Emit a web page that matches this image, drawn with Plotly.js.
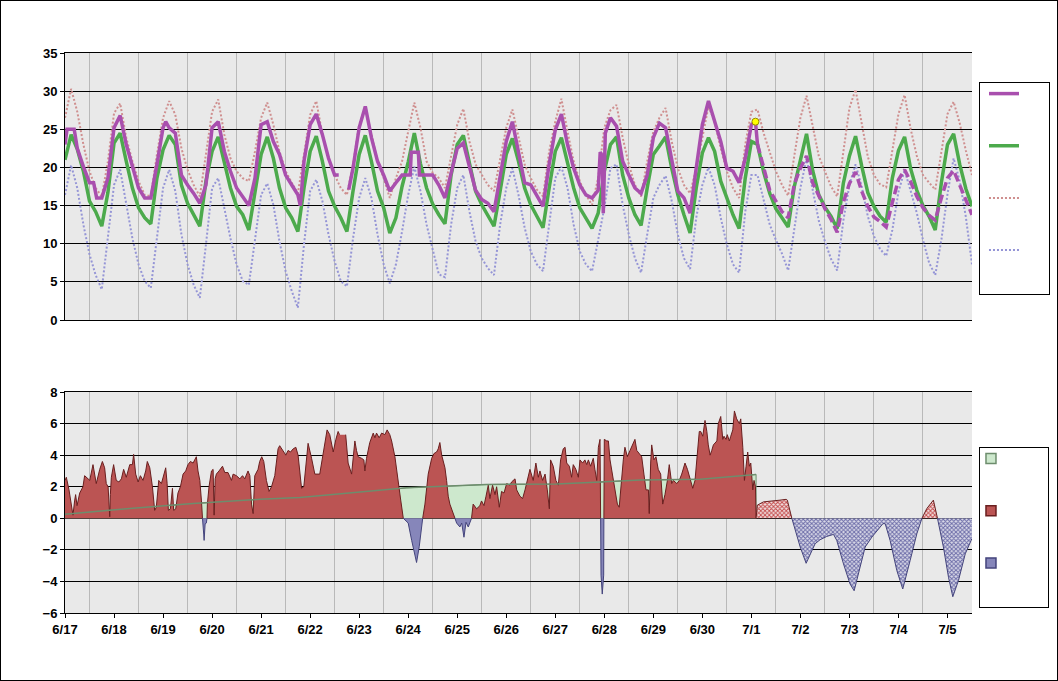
<!DOCTYPE html>
<html><head><meta charset="utf-8">
<script src="https://cdn.plot.ly/plotly-3.0.1.min.js"></script>
<style>
html,body{margin:0;padding:0;background:#fff;}
#chart{width:1056px;height:679px;border:1px solid #000;}
</style></head><body><div id="chart"></div>
<script>
// ---------- DATA (hours counted from 6/17 00:00) ----------
const gridStepHours = 3; // normal / record series: one value every 3 hours, 6/17 00h .. 7/5 12h
const normalTemp = [21.0,24.3,22.4,19.5,15.6,14.2,12.3,16.7, 23.2,24.5,20.8,17.3,14.7,13.4,12.6,18.6,
 22.3,24.2,23.0,17.7,15.3,13.8,12.3,18.2, 22.1,24.0,20.8,17.3,14.9,13.8,11.8,16.9,
 21.7,24.0,21.2,17.3,14.7,13.4,11.6,17.3, 22.1,24.1,20.8,16.9,14.9,13.4,11.6,16.9,
 21.7,24.2,20.8,16.9,14.7,11.4,13.4,17.5, 20.7,24.5,20.5,17.3,15.2,13.8,12.6,19.0,
 23.0,24.2,20.4,16.9,15.1,13.6,12.3,16.9, 21.7,23.8,20.8,17.3,15.1,13.6,12.1,17.3,
 22.1,23.9,20.8,17.3,14.7,13.4,12.0,14.0, 19.5,23.0,24.0,19.0,16.0,13.8,12.4,17.3,
 21.7,22.8,24.0,19.9,16.4,13.8,11.4,17.3, 21.9,23.9,22.1,18.2,16.0,13.8,12.0,18.6,
 23.4,23.0,19.4,16.6,14.6,13.4,12.2,17.5, 21.2,24.4,19.6,16.4,14.8,13.6,12.0,17.9,
 21.5,24.1,20.2,16.7,14.9,13.6,12.8,18.6, 22.2,24.0,19.8,17.0,15.0,13.6,11.8,18.0,
 23.0,24.4,20.4,17.2,14.9];
const recordHigh = [26.5,30.3,27.3,23.0,19.5,17.3,16.2,20.8, 27.1,28.4,23.9,20.8,18.2,16.4,16.2,21.7,
 26.5,28.7,26.9,22.5,19.7,17.7,16.2,22.1, 27.3,28.9,24.3,21.2,19.5,18.6,18.2,22.1,
 26.5,28.5,25.6,22.1,19.5,18.0,16.6,21.7, 26.9,28.7,24.3,21.2,19.0,17.3,16.4,20.4,
 25.6,27.8,24.3,20.8,18.6,16.0,18.6,20.8, 24.7,28.5,25.2,20.8,19.3,18.6,17.3,21.7,
 25.6,27.7,23.4,20.4,19.0,17.7,16.9,21.2, 25.2,27.6,23.9,20.4,18.6,17.1,16.2,22.1,
 26.0,29.0,24.7,20.8,18.2,16.4,15.1,18.6, 25.2,27.5,28.2,23.9,20.4,17.7,16.2,20.8,
 24.7,26.5,27.8,23.4,19.9,17.7,16.6,19.9, 23.9,28.0,26.0,22.5,19.5,17.3,16.0,23.0,
 27.3,27.6,24.5,22.0,19.5,17.7,16.3,21.5, 26.5,29.4,25.5,21.5,19.5,17.5,16.2,21.8,
 27.8,30.2,25.6,21.4,19.0,17.8,17.4,22.4, 27.0,29.5,25.0,21.5,19.0,18.0,17.1,22.0,
 27.0,28.6,25.8,22.2,19.0];
const recordLow = [16.4,20.3,17.3,12.5,8.6,5.9,4.0,10.7, 17.7,19.7,15.1,10.7,7.3,5.1,4.2,10.7,
 17.3,19.7,16.9,11.2,7.3,4.6,2.9,9.9, 17.3,18.6,14.7,10.7,7.3,5.1,4.6,10.7,
 16.4,17.9,15.1,10.3,6.4,3.8,1.6,9.9, 16.9,18.4,15.6,11.2,7.7,5.1,4.4,10.7,
 16.0,18.6,16.0,11.2,7.3,4.8,7.3,11.6, 16.4,20.1,16.9,12.5,9.2,6.0,5.6,12.5,
 17.3,19.0,14.2,10.3,8.1,6.8,5.9,12.5, 17.3,19.9,16.4,12.1,9.0,7.3,6.4,12.5,
 18.6,20.1,17.3,12.5,9.0,7.3,6.4,10.5, 14.7,19.9,20.4,15.1,11.2,8.1,6.2,11.2,
 16.0,17.7,18.9,15.6,11.2,8.1,6.7,13.4, 17.7,20.0,17.7,13.4,9.9,7.3,6.2,14.2,
 19.0,19.0,15.8,12.5,10.5,8.7,6.5,12.0, 17.3,21.2,17.0,13.0,10.3,8.0,6.5,13.0,
 17.7,20.4,17.5,13.6,11.0,9.3,8.4,11.8, 16.8,19.6,16.9,14.0,10.5,7.5,5.9,10.5,
 16.5,21.2,18.2,13.5,7.3];

const obsHours = [0,1,4.5,6,9,12,14,15.5,18,21,24,27,30,33,36,39,42,45,48,49.3,51,54,57,60,63,66,69,
 72,75,78,81,84,87,90,93,96,99,102,105,108,111,114,115.2,117,120,123,126,129,132,134,135.5,138.9,141,
 144,147,150,153,156,159,162,165,169,169.5,173,173.5,180,183,186,189,192,195,198,201,204,207,210,213,
 216,219,222,225,228,231,234,237,240,243,246,249,252,255,258,261,262,263,263.5,264.5,267,270,273,276,
 279,282,285,288,291,294,297,300,303,306,309,312,315,318,321,324,327,330,333,336,338,339];
const obsTemp = [23.0,25.0,25.0,22.5,20.1,18.0,18.0,16.0,16.0,18.6,25.2,26.8,23.0,20.1,17.3,16.0,16.0,20.4,25.2,26.0,25.2,24.5,19.0,17.7,16.6,15.3,17.7,
 25.2,26.0,22.1,19.5,17.3,16.2,15.0,18.6,25.6,26.0,23.4,21.7,19.0,17.7,16.4,15.0,20.8,25.6,27.0,24.3,21.2,19.0,19.0,null,17.1,19.9,
 25.2,28.0,23.9,20.8,19.0,16.9,18.0,19.0,19.0,22.0,22.0,19.0,19.0,17.7,16.0,19.5,22.5,23.2,19.9,17.0,15.8,15.3,14.2,18.6,
 23.4,26.0,22.1,18.0,17.7,16.4,14.9,20.4,24.9,27.0,23.0,19.9,17.7,16.4,16.0,17.0,22.0,21.5,14.0,24.5,26.5,25.4,20.8,19.0,
 17.3,16.6,19.0,23.9,25.8,25.2,21.2,16.9,16.0,14.0,19.9,25.6,28.7,26.0,23.4,19.9,19.5,18.0,21.2,25.6,26.0,23.0];
const latestHour = [338];
const latestTemp = [26.0];

const forecastHours = [339,342,345,348,351,354,357,360,363,366,369,372,375,378,381,384,387,390,393,396,399,402,
 405,408,411,414,417,420,423,426,429,432,435,438,441,444];
const forecastTemp = [23.0,19.8,17.0,15.6,14.2,13.4,17.8,19.9,21.5,18.0,16.2,14.6,13.2,11.5,15.4,17.9,19.4,16.9,14.9,13.5,12.9,12.2,
 15.4,18.4,19.7,18.1,16.2,14.7,13.7,13.1,16.0,18.6,19.6,17.6,15.5,13.8];

// departure from normal (bottom panel)
const anomHours = [0,0.65,1.96,3.1,3.9,4.7,5.2,5.9,7.2,8.8,9.6,11.3,12.1,13.7,14.5,15.3,17.0,18.3,19.4,20.2,21.1,21.6,21.9,22.2,22.7,23.8,
 25.1,26.4,27.6,28.7,30.0,31.7,33.0,33.6,34.6,35.8,36.9,38.2,39.5,40.3,41.5,42.8,43.9,44.7,45.9,47.2,48.5,49.3,50.0,50.6,51.6,52.6,53.2,54.2,
 55.3,56.5,57.8,59.1,60.2,61.4,62.7,63.5,64.3,65.1,66.0,66.8,67.3,67.6,67.9,68.1,68.3,68.6,69.2,69.5,69.7,70.5,71.7,72.5,73.0,73.5,74.1,
 75.4,77.1,78.2,79.8,81.5,82.3,83.9,85.6,86.9,88.0,89.6,90.5,91.3,92.1,92.9,94.5,95.3,96.3,97.3,98.6,99.9,101.1,102.7,104.3,105.1,106.8,
 108.1,109.2,110.4,111.7,113.0,114.1,115.8,116.9,118.2,119.0,120.7,122.3,124.7,126.4,128.3,129.6,131.3,132.6,133.7,134.4,135.8,137.4,
 138.6,140.3,141.9,142.7,143.5,145.2,146.3,146.8,147.6,149.2,150.9,151.7,152.5,153.8,155.0,156.6,157.7,159.0,159.9,161.5,163.1,164.4,
 165.6,168.0,169.7,170.8,172.1,173.4,174.6,175.1,176.2,177.8,179.5,180.6,181.9,182.7,183.5,184.4,186.0,186.8,187.6,188.4,190.0,190.9,
 191.7,193.3,194.2,195.3,196.3,197.4,198.2,199.0,199.8,201.5,203.1,203.9,205.1,206.1,207.2,208.0,209.3,210.5,211.3,212.6,213.7,214.9,
 216.2,217.8,218.6,220.3,221.1,222.7,224.0,225.2,226.8,227.6,229.2,230.5,231.7,232.5,233.8,235.0,236.1,237.1,237.7,239.0,240.3,241.5,
 242.6,243.9,244.8,245.6,246.9,248.0,248.8,250.1,251.3,252.1,253.4,254.5,255.4,256.2,257.3,258.6,259.4,260.3,261.1,261.9,262.2,262.4,
 263.0,263.7,263.8,264.0,265.2,266.0,266.8,268.1,269.2,270.4,271.3,272.5,273.3,274.1,275.3,276.6,277.9,279.0,279.9,281.1,282.3,283.4,
 284.4,285.6,286.0,286.7,287.2,288.3,289.3,290.4,291.6,292.6,293.7,294.9,295.8,297.0,297.8,299.5,300.7,301.9,303.5,304.7,306.0,307.3,
 308.4,309.6,310.5,311.2,312.2,313.3,314.2,314.9,315.8,316.6,317.4,319.1,319.8,321.0,322.0,322.6,323.6,324.2,325.2,325.9,326.9,327.7,
 328.8,330.1,330.8,331.8,332.6,333.4,334.2,335.0,335.7,336.7,337.3,338.0,338.3];
const anomValues = [2.4,2.6,1.8,0.8,0.2,1.1,1.5,0.8,1.6,2.0,2.7,2.5,2.4,3.4,2.8,2.2,3.1,3.6,3.2,2.2,2.0,0.7,0.1,1.5,2.6,3.4,
 2.4,2.3,2.5,3.1,2.6,3.4,3.4,4.05,2.8,2.3,2.7,2.4,3.0,3.6,3.2,2.0,0.5,0.7,2.4,2.2,2.9,3.2,2.2,0.5,0.6,1.9,0.5,0.6,
 1.6,2.0,2.8,3.0,3.4,3.6,3.5,3.7,3.9,3.0,2.4,1.1,0,-0.35,-1.0,-1.4,-1.0,-0.35,-0.3,0,0.9,2.0,3.0,3.1,0.2,2.5,2.8,
 3.0,3.3,2.9,2.9,2.4,2.8,2.7,2.5,2.7,2.5,3.0,2.7,0.9,0.3,2.7,3.1,3.6,3.9,3.6,2.4,1.7,2.0,2.7,4.4,4.6,4.3,
 4.0,4.3,4.2,4.4,4.5,4.0,1.9,2.0,3.9,4.75,3.8,2.8,2.8,4.0,5.6,5.3,4.2,5.0,5.5,5.3,null,5.3,
 3.5,2.8,4.9,4.3,3.9,3.8,3.7,3.0,3.8,4.8,5.4,5.1,5.4,5.1,5.4,5.3,5.6,5.3,4.9,3.9,2.2,1.1,
 0,-0.3,-1.4,-2.0,-2.8,-1.8,-0.3,0,0.9,2.8,3.8,4.1,4.2,4.4,4.8,4.0,3.2,2.4,1.4,0.9,0.3,0,
 -0.3,-0.55,-0.3,-1.2,-0.25,-0.55,-0.25,0,0.9,0.6,0.8,1.1,0.8,1.4,2.1,1.25,2.1,1.5,2.0,0.7,1.7,1.6,
 2.2,2.1,2.3,2.5,1.8,1.4,1.25,1.8,2.6,3.1,2.4,3.5,2.6,3.0,2.4,2.8,1.8,0.6,3.7,3.3,2.4,2.1,
 3.7,4.4,4.5,3.5,3.3,2.6,3.4,3.1,2.6,3.7,3.5,3.7,3.4,3.7,3.3,3.8,3.1,2.4,4.5,5.0,0,-3.6,
 -4.8,-3.6,0,5.0,4.9,4.9,3.7,2.6,1.8,0.9,0.7,2.6,3.7,4.5,3.9,4.3,4.65,5.0,4.3,4.1,3.9,2.8,
 1.8,1.8,0.3,3.5,4.65,3.7,3.9,3.1,2.8,0.9,1.5,2.4,3.4,2.2,2.4,2.2,2.4,2.8,3.5,3.1,2.4,1.9,
 2.4,4.3,5.5,5.5,5.2,6.2,5.5,4.65,4.0,4.3,4.65,4.9,6.0,6.45,5.0,5.2,5.0,5.3,4.9,5.2,5.6,6.8,
 6.3,6.0,6.3,4.5,2.4,3.3,4.2,3.3,3.5,1.8,2.4,2.0,0];

const trendHours = [0,30.1,62.7,95.4,115,136,167.2,206.4,240.7,262,281.5,310.9,338.3];
const trendValues = [0.25,0.61,0.93,1.2,1.31,1.57,1.93,2.14,2.17,2.3,2.42,2.48,2.78];

const fcAnomHours = [338.3,338.9,341.9,345.1,350.0,353.0,353.6,355.8,357.4,359.9,362.8,364.8,367.2,369.6,372.9,376.2,377.8,381.1,
 384.3,386.3,388.4,391.7,395.0,399.0,400.4,401.5,403.9,407.2,410.1,413.7,417.0,419.5,421.9,425.1,427.1,430.0,432.5,434.6,437.4,440.7,443.9];
const fcAnomValues = [0,0.83,1.04,1.1,1.15,1.2,1.15,0,-0.76,-1.82,-2.85,-2.25,-1.61,-1.36,-1.15,-1.02,-1.4,-2.89,
 -4.16,-4.59,-3.52,-1.82,-1.19,-0.55,-0.34,-0.34,-1.4,-3.31,-4.48,-2.68,-0.98,0,0.62,1.15,0,-1.82,-3.74,-4.97,-3.93,-2.25,-1.30];

// ---------- helpers ----------
const base = Date.UTC(2024, 5, 17);
const toDate = h => new Date(base + h * 3600000).toISOString().slice(0, 19).replace('T', ' ');
const gridHours = normalTemp.map((_, i) => i * gridStepHours);
const endHour = gridHours[gridHours.length - 1];

function splitBySign(hours, vals) {
  const px = [], py = [], nx = [], ny = [];
  for (let i = 0; i < hours.length; i++) {
    const h = hours[i], v = vals[i];
    if (i > 0) {
      const hp = hours[i - 1], vp = vals[i - 1];
      if (vp != null && v != null && vp * v < 0) {
        const hc = hp + (h - hp) * vp / (vp - v);
        px.push(hc); py.push(0); nx.push(hc); ny.push(0);
        if (vp > 0) { px.push(hc); py.push(null); } else { nx.push(hc); ny.push(null); }
      }
    }
    if (v == null) { px.push(h); py.push(null); nx.push(h); ny.push(null); continue; }
    px.push(h); py.push(v >= 0 ? v : null);
    nx.push(h); ny.push(v <= 0 ? v : null);
  }
  return { px: px.map(toDate), py, nx: nx.map(toDate), ny };
}

const obsSplit = splitBySign(anomHours, anomValues);
const fcSplit = splitBySign(fcAnomHours, fcAnomValues);

const C = {
  purple: '#a94fae', green: '#4caa4c', pink: '#cf8f8f', lav: '#9595d6',
  red: '#bb5453', redLine: '#6a1f1f', blue: '#8686ba', blueLine: '#44447c',
  lgreen: '#cde8cd', trend: '#6d8d6d'
};
const nb = '\u00a0';
const legendName = (lines, w) => [nb.repeat(w)].concat(Array(lines - 1).fill(nb)).join('<br>');

const traces = [
  { x: gridHours.map(toDate), y: recordHigh, mode: 'lines', line: { color: C.pink, width: 2, dash: '2px,2px' },
    name: legendName(6, 11), legend: 'legend', legendrank: 3 },
  { x: gridHours.map(toDate), y: recordLow, mode: 'lines', line: { color: C.lav, width: 2, dash: '2px,2px' },
    name: legendName(5, 11), legend: 'legend', legendrank: 4 },
  { x: gridHours.map(toDate), y: normalTemp, mode: 'lines', line: { color: C.green, width: 3.5 },
    name: legendName(6, 11), legend: 'legend', legendrank: 2 },
  { x: obsHours.map(toDate), y: obsTemp, mode: 'lines', line: { color: C.purple, width: 3.5 }, connectgaps: false,
    name: legendName(6, 11), legend: 'legend', legendrank: 1 },
  { x: forecastHours.map(toDate), y: forecastTemp, mode: 'lines', line: { color: C.purple, width: 3.5, dash: '9px,4px' },
    showlegend: false },
  { x: latestHour.map(toDate), y: latestTemp, mode: 'markers', showlegend: false,
    marker: { color: '#ffff00', size: 7, line: { color: '#9a8a00', width: 1 } } },

  // bottom panel
  { x: trendHours.concat([trendHours[trendHours.length - 1]]).map(toDate), y: trendValues.concat([0]),
    xaxis: 'x2', yaxis: 'y2', mode: 'lines', fill: 'tozeroy', fillcolor: C.lgreen,
    line: { color: C.trend, width: 1 }, showlegend: false },
  { x: obsSplit.px, y: obsSplit.py, xaxis: 'x2', yaxis: 'y2', mode: 'lines', fill: 'tozeroy', fillcolor: C.red,
    line: { color: C.redLine, width: 1 }, connectgaps: false, showlegend: false },
  { x: obsSplit.nx, y: obsSplit.ny, xaxis: 'x2', yaxis: 'y2', mode: 'lines', fill: 'tozeroy', fillcolor: C.blue,
    line: { color: C.blueLine, width: 1 }, connectgaps: false, showlegend: false },
  { x: trendHours.map(toDate), y: trendValues, xaxis: 'x2', yaxis: 'y2', mode: 'lines',
    line: { color: C.trend, width: 1.5 }, showlegend: false },
  { x: fcSplit.px, y: fcSplit.py, xaxis: 'x2', yaxis: 'y2', mode: 'lines', fill: 'tozeroy', connectgaps: false,
    fillpattern: { shape: 'x', size: 3, solidity: 0.5, fgcolor: '#c44848', bgcolor: '#f0dede' },
    line: { color: C.redLine, width: 1 }, showlegend: false },
  { x: fcSplit.nx, y: fcSplit.ny, xaxis: 'x2', yaxis: 'y2', mode: 'lines', fill: 'tozeroy', connectgaps: false,
    fillpattern: { shape: 'x', size: 3, solidity: 0.55, fgcolor: '#6c6ca8', bgcolor: '#dadae8' },
    line: { color: C.blueLine, width: 1 }, showlegend: false },

  // legend swatches for the bottom panel
  { x: [null], y: [null], xaxis: 'x2', yaxis: 'y2', mode: 'markers', legend: 'legend2', name: legendName(6, 18),
    marker: { symbol: 'square', size: 10, color: C.lgreen, line: { color: C.trend, width: 1.5 } } },
  { x: [null], y: [null], xaxis: 'x2', yaxis: 'y2', mode: 'markers', legend: 'legend2', name: legendName(6, 18),
    marker: { symbol: 'square', size: 10, color: C.red, line: { color: C.redLine, width: 1.5 } } },
  { x: [null], y: [null], xaxis: 'x2', yaxis: 'y2', mode: 'markers', legend: 'legend2', name: legendName(5, 18),
    marker: { symbol: 'square', size: 10, color: C.blue, line: { color: C.blueLine, width: 1.5 } } }
];

const tf = { family: 'Liberation Sans, Arial, sans-serif', size: 13, weight: 'bold', color: '#000' };
const xc = {
  type: 'date', range: [toDate(0), toDate(endHour)], tickmode: 'linear', tick0: toDate(0), dtick: 86400000,
  tickformat: '%-m/%-d', showgrid: false, showline: true, linecolor: '#000', linewidth: 1, mirror: true,
  zeroline: false, fixedrange: true, tickfont: tf,
  minor: { tickmode: 'linear', tick0: toDate(12), dtick: 86400000, showgrid: true, gridcolor: '#b9b9b9', gridwidth: 1, ticks: '' }
};
const yc = {
  tick0: 0, showgrid: true, gridcolor: '#000', gridwidth: 1, showline: true, linecolor: '#000', linewidth: 1,
  ticks: 'outside', ticklen: 4, tickcolor: '#000', tickfont: tf, zeroline: false, fixedrange: true
};
const lg = {
  xanchor: 'left', yanchor: 'top', bgcolor: '#fff', bordercolor: '#000', borderwidth: 1,
  font: { family: 'Liberation Sans, Arial, sans-serif', size: 6.3, color: '#000' },
  itemwidth: 30, valign: 'top', traceorder: 'normal'
};

const layout = {
  width: 1056, height: 679,
  margin: { l: 64, r: 85, t: 52, b: 67, autoexpand: false },
  paper_bgcolor: '#fff', plot_bgcolor: '#e9e9e9',
  showlegend: true, hovermode: false,
  xaxis: Object.assign({}, xc, { anchor: 'y', showticklabels: false, ticks: '' }),
  yaxis: Object.assign({}, yc, { domain: [0.5232, 1], range: [0, 35], dtick: 5 }),
  xaxis2: Object.assign({}, xc, { anchor: 'y2', ticks: 'outside', ticklen: 4, tickcolor: '#000' }),
  yaxis2: Object.assign({}, yc, { domain: [0, 0.3946], range: [-6, 8], dtick: 2 }),
  legend: Object.assign({}, lg, { x: 1.0077, y: 0.9482, indentation: 4 }),
  legend2: Object.assign({}, lg, { x: 1.0077, y: 0.2964, indentation: -9 })
};

Plotly.newPlot('chart', traces, layout, { staticPlot: true, displayModeBar: false });
</script></body></html>
